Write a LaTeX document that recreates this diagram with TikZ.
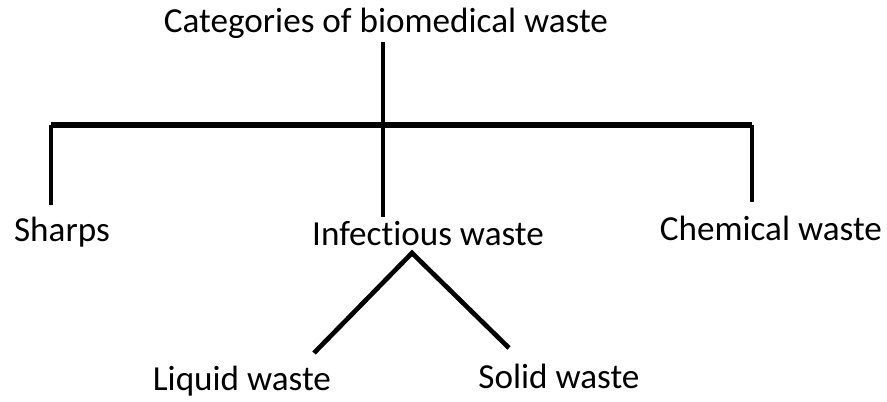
\documentclass[tikz,border=0pt]{standalone}
\usepackage{fontspec}
\setmainfont[Ligatures=NoCommon]{Carlito}
\usetikzlibrary{positioning}

\begin{document}
\begin{tikzpicture}[x=0.03cm, y=-0.03cm, line width=3.6pt,
    label/.style={inner sep=0pt, font=\fontsize{30}{34}\selectfont}]
  \useasboundingbox (0,0) rectangle (887,402);
  % titulo
  \node[label] (title) at (386,23) {Categories of biomedical waste};
  % categorias
  \node[label, anchor=west] (sharps) at (12,232) {Sharps};
  \node[label] (infect) at (428,234) {Infectious waste};
  \node[label, anchor=east] (chem) at (884,228) {Chemical waste};
  % subcategorias
  \node[label] (liquid) at (242,381) {Liquid waste};
  \node[label] (solid) at (559,376) {Solid waste};
  % puntos de union
  \coordinate (stem) at (383,42);
  \coordinate (mid) at (383,125);
  \coordinate (left) at (51,125);
  \coordinate (right) at (752,125);
  \coordinate (sharpsTop) at (51,205);
  \coordinate (infectTop) at (383,217);
  \coordinate (chemTop) at (752,202);
  \coordinate (apex) at (412,253);
  \coordinate (liquidTop) at (314,353);
  \coordinate (solidTop) at (509,348);
  % ramas
  \draw (stem) -- (mid);
  \draw[line width=5pt] (left) -- (right);
  \draw (left) -- (sharpsTop);
  \draw (mid) -- (infectTop);
  \draw (right) -- (chemTop);
  \draw[line width=4pt, line join=miter] (liquidTop) -- (apex) -- (solidTop);
\end{tikzpicture}
\end{document}
